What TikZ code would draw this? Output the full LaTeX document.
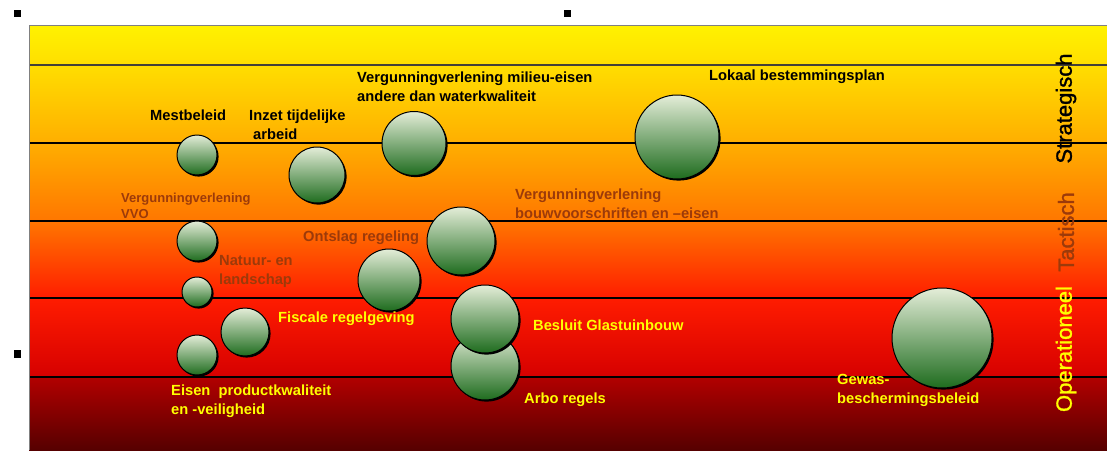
\documentclass[tikz,border=0pt]{standalone}
\usepackage{fontspec}
\setmainfont{Liberation Sans}
\newfontfamily\levelfont[FakeBold=1.3]{Liberation Sans}
\usetikzlibrary{shadows}
\definecolor{lblbrown}{HTML}{9C3A0A}
\definecolor{lblyellow}{HTML}{FFFF00}
\definecolor{btop}{HTML}{E4EDD8}
\definecolor{bmid}{HTML}{A8C288}
\definecolor{bbot}{HTML}{1E6C1E}
\definecolor{cA}{HTML}{FFF200}
\definecolor{cB}{HTML}{FFDE00}
\definecolor{cC}{HTML}{FFAE00}
\definecolor{cD}{HTML}{FF7600}
\definecolor{cE}{HTML}{FF1C00}
\definecolor{cF}{HTML}{FF0000}
\definecolor{cG}{HTML}{D60000}
\definecolor{cH}{HTML}{B20000}
\definecolor{cI}{HTML}{560000}
\tikzset{
  bubble/.style={circle, inner sep=0pt, minimum size=#1, draw=black, line width=1pt,
    top color=btop, middle color=bmid, bottom color=bbot,
    general shadow={fill=black, shadow xshift=1.6pt, shadow yshift=-1.6pt}},
  lab/.style={font=\bfseries\fontsize{14.7}{19}\selectfont, inner sep=0pt, anchor=west, align=left},
  smalllab/.style={font=\bfseries\fontsize{13}{16}\selectfont, inner sep=0pt, anchor=west, align=left},
  vlab/.style={font=\levelfont\fontsize{22}{26}\selectfont, inner sep=0pt, rotate=90, anchor=center},
  bandline/.style={draw=black, line width=1.2pt},
  handle/.style={fill=black, inner sep=0pt, minimum size=7.5pt}
}
\begin{document}
\begin{tikzpicture}[x=1pt,y=-1pt]
\useasboundingbox (0,0) rectangle (1107,450);
\fill[white] (0,0) rectangle (1107,450);
% background bands
\shade[top color=cA, bottom color=cB] (29,25) rectangle (1107,65.5);
\shade[top color=cB, bottom color=cC] (29,65) rectangle (1107,143.5);
\shade[top color=cC, bottom color=cD] (29,143) rectangle (1107,221.5);
\shade[top color=cD, bottom color=cE] (29,221) rectangle (1107,298.5);
\shade[top color=cE, middle color=cF, bottom color=cG] (29,298) rectangle (1107,377.5);
\shade[top color=cH, bottom color=cI] (29,377) rectangle (1107,450);
% band lines
\draw[bandline, line width=1.8pt, draw=black!85!yellow] (29,65) -- (1107,65);
\draw[bandline] (29,143) -- (1107,143);
\draw[bandline] (29,221) -- (1107,221);
\draw[bandline] (29,298) -- (1107,298);
\draw[bandline] (29,377) -- (1107,377);
% frame
\draw[gray, line width=1pt] (29,450) -- (29,25) -- (1107,25);
% handles
\node[handle] (h1) at (17.5,13.5) {};
\node[handle] (h2) at (567.5,13.5) {};
\node[handle] (h3) at (17.5,354) {};
% bubbles
\node[bubble=40pt] (mest) at (197,155) {};
\node[bubble=56pt] (inzet) at (317,175) {};
\node[bubble=64pt] (milieu) at (414,143.5) {};
\node[bubble=84pt] (lokaal) at (677,137) {};
\node[bubble=40pt] (vvo) at (197,241) {};
\node[bubble=30pt] (natuur) at (197,292) {};
\node[bubble=62pt] (ontslag) at (389,280) {};
\node[bubble=68pt] (bouw) at (461,241) {};
\node[bubble=48pt] (fiscale) at (245,332) {};
\node[bubble=40pt] (eisen) at (197,355) {};
\node[bubble=68pt] (arbo) at (485,366) {};
\node[bubble=68pt] (besluit) at (485,319) {};
\node[bubble=100pt] (gewas) at (942,338) {};
% labels
\node[lab] (tmest) at (150,115) {Mestbeleid};
\node[lab] (tinzet) at (249,124.5) {Inzet tijdelijke\\\hspace*{4pt}arbeid};
\node[lab] (tmilieu) at (357,86.5) {Vergunningverlening milieu-eisen\\andere dan waterkwaliteit};
\node[lab] (tlokaal) at (709,77) {Lokaal bestemmingsplan};
\node[smalllab, text=lblbrown] (tvvo) at (121,206) {Vergunningverlening\\VVO};
\node[lab, text=lblbrown] (tbouw) at (515,204) {Vergunningverlening\\bouwvoorschriften en –eisen};
\node[lab, text=lblbrown] (tontslag) at (303,238) {Ontslag regeling};
\node[lab, text=lblbrown] (tnatuur) at (219,271.5) {Natuur- en\\landschap};
\node[lab, text=lblyellow] (tfiscale) at (278,319) {Fiscale regelgeving};
\node[lab, text=lblyellow] (teisen) at (171,401) {Eisen\ \ productkwaliteit\\en -veiligheid};
\node[lab, text=lblyellow] (tbesluit) at (533,325) {Besluit Glastuinbouw};
\node[lab, text=lblyellow] (tarbo) at (524,399.5) {Arbo regels};
\node[lab, text=lblyellow] (tgewas) at (837,390) {Gewas-\\beschermingsbeleid};
% vertical level labels
\node[vlab, text=black] (strat) at (1066,108.5) {Strategisch};
\node[vlab, text=lblbrown] (tact) at (1066,232) {Tactisch};
\node[vlab, text=lblyellow] (oper) at (1066,349) {Operationeel};
\end{tikzpicture}
\end{document}
